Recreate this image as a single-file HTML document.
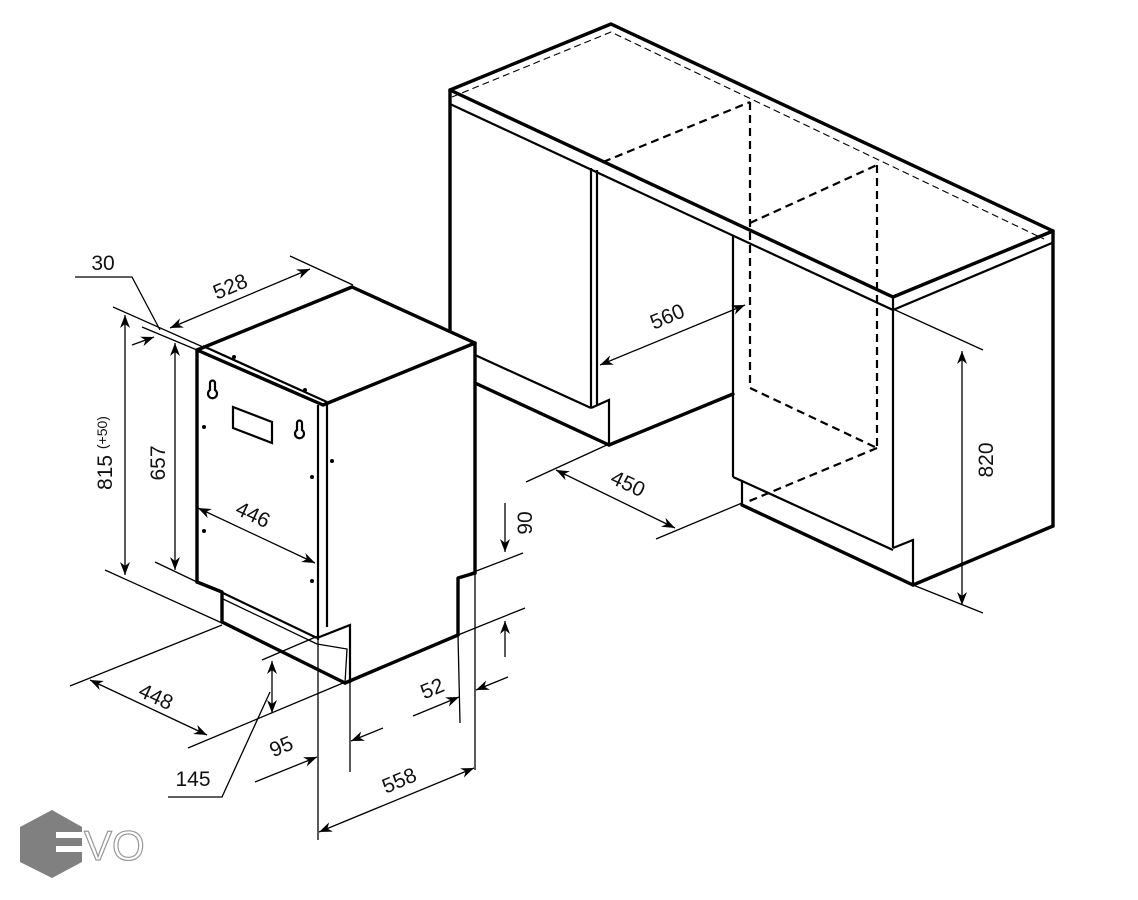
<!DOCTYPE html>
<html><head><meta charset="utf-8"><style>
html,body{margin:0;padding:0;background:#fff}
svg{display:block}
text{font-family:"Liberation Sans",sans-serif;font-size:21px;fill:#111}
.t{stroke:#000;stroke-width:3.4;fill:none;stroke-linejoin:round;stroke-linecap:round}
.m{stroke:#000;stroke-width:2.2;fill:none}
.d{stroke:#000;stroke-width:1.3;fill:none}
.ds{stroke:#000;stroke-width:2.2;fill:none;stroke-dasharray:8 5}
.dt{stroke:#000;stroke-width:1.1;fill:none;stroke-dasharray:7 4}
.a{stroke:#000;stroke-width:1.3;fill:none;marker-end:url(#ar)}
.aa{stroke:#000;stroke-width:1.3;fill:none;marker-end:url(#ar);marker-start:url(#as)}
</style></head><body>
<svg width="1138" height="900" viewBox="0 0 1138 900" xmlns="http://www.w3.org/2000/svg">
<defs>
<marker id="ar" markerWidth="14" markerHeight="10" refX="13" refY="5" orient="auto" markerUnits="userSpaceOnUse"><path d="M0,0 L13,5 L0,10 L4,5 Z" fill="#000"/></marker>
<marker id="as" markerWidth="14" markerHeight="10" refX="1" refY="5" orient="auto" markerUnits="userSpaceOnUse"><path d="M14,0 L1,5 L14,10 L10,5 Z" fill="#000"/></marker>
</defs>

<!-- CABINET -->
<polygon class="t" points="450,90 611,24 1053,231 893,297"/>
<line class="m" x1="450" y1="104" x2="893" y2="310"/>
<line class="m" x1="893" y1="310" x2="1052" y2="243"/>
<line class="m" x1="893" y1="297" x2="893" y2="548"/>
<polyline class="dt" points="452,97 611,32 1044,239"/>
<line class="t" x1="450" y1="90" x2="450" y2="330"/>
<line class="t" x1="1053" y1="231" x2="1053" y2="526"/>
<line class="m" x1="475" y1="355" x2="591" y2="408"/>
<line class="t" x1="475" y1="383" x2="609" y2="445"/>
<line class="m" x1="591" y1="168" x2="591" y2="408"/>
<line class="m" x1="597" y1="170" x2="597" y2="405"/>
<polyline class="m" points="591,408 609,400 609,445"/>
<line class="t" x1="609" y1="445" x2="733" y2="394"/>
<line class="m" x1="733" y1="235" x2="733" y2="477"/>
<polyline class="m" points="733,477 742,481 742,505"/>
<line class="m" x1="742" y1="481" x2="893" y2="550"/>
<line class="t" x1="742" y1="505" x2="913" y2="585"/>
<polyline class="m" points="893,548 913,540 913,585"/>
<line class="t" x1="913" y1="585" x2="1053" y2="526"/>
<!-- dashed opening -->
<line class="ds" x1="603" y1="162" x2="750" y2="102"/>
<line class="ds" x1="750" y1="102" x2="750" y2="388"/>
<line class="ds" x1="750" y1="223" x2="877" y2="165"/>
<line class="ds" x1="877" y1="165" x2="877" y2="448"/>
<line class="ds" x1="750" y1="388" x2="877" y2="448"/>
<line class="ds" x1="877" y1="448" x2="747" y2="502"/>
<!-- 560 -->
<line class="aa" x1="600" y1="365" x2="745" y2="305"/>
<text transform="translate(670,323) rotate(-23)" text-anchor="middle">560</text>
<!-- 450 -->
<line class="d" x1="526" y1="482" x2="609" y2="444"/>
<line class="d" x1="656" y1="539" x2="742" y2="503"/>
<line class="aa" x1="556" y1="470" x2="675" y2="528"/>
<text transform="translate(625,490) rotate(25)" text-anchor="middle">450</text>
<!-- 820 -->
<line class="d" x1="893" y1="309" x2="983" y2="350"/>
<line class="d" x1="913" y1="585" x2="983" y2="613"/>
<line class="aa" x1="962" y1="351" x2="962" y2="605"/>
<text transform="translate(993,460) rotate(-90)" text-anchor="middle">820</text>

<!-- DISHWASHER -->
<polygon points="197,350 352,287 475,343 475,573 458,578 458,635 345,683 222,622 222,592 197,582" fill="#fff"/>
<polygon class="t" points="197,350 352,287 475,343 323,405"/>
<line class="m" x1="203" y1="346" x2="327" y2="402"/>
<line class="t" x1="197" y1="350" x2="197" y2="582"/>
<line class="m" x1="318" y1="405" x2="318" y2="640"/>
<line class="d" x1="318" y1="640" x2="318" y2="840"/>
<line class="m" x1="327" y1="403" x2="327" y2="627"/>
<line class="t" x1="475" y1="343" x2="475" y2="573"/>
<line class="d" x1="475" y1="573" x2="475" y2="770"/>
<polyline class="t" points="197,582 222,592 222,622"/>
<line class="m" x1="223" y1="593" x2="317" y2="638"/>
<line class="d" x1="223" y1="599" x2="317" y2="644"/>
<line class="t" x1="222" y1="622" x2="345" y2="683"/>
<polyline class="m" points="317,638 350,625 350,683"/>
<polyline class="d" points="317,644 347,649 345,683"/>
<line class="t" x1="345" y1="683" x2="458" y2="635"/>
<polyline class="t" points="458,635 458,578 475,573"/>
<line class="d" x1="458" y1="635" x2="460" y2="723"/>
<!-- details -->
<path d="M210,383 a2.5,2.5 0 0 1 5,0 v7 a4.5,4.5 0 1 1 -5,0 z" class="m"/>
<path d="M297,423 a2.5,2.5 0 0 1 5,0 v7 a4.5,4.5 0 1 1 -5,0 z" class="m"/>
<polygon class="m" points="233,407 272,422 272,443 233,428"/>
<g fill="#000"><circle cx="204" cy="427" r="2"/><circle cx="204" cy="531" r="2"/><circle cx="312" cy="477" r="2"/><circle cx="312" cy="581" r="2"/><circle cx="332" cy="461" r="2"/><circle cx="234" cy="357" r="2"/><circle cx="305" cy="390" r="2"/></g>

<!-- 528 / 30 -->
<line class="d" x1="290" y1="256" x2="353" y2="285"/>
<line class="d" x1="113" y1="307" x2="203" y2="347"/>
<line class="d" x1="142" y1="327" x2="197" y2="350"/>
<line class="aa" x1="170" y1="328" x2="310" y2="269"/>
<text transform="translate(233,293) rotate(-23)" text-anchor="middle">528</text>
<text x="103" y="270" text-anchor="middle">30</text>
<polyline class="d" points="75,277 132,277 160,330"/>
<line class="a" x1="132" y1="345" x2="154" y2="337"/>
<!-- 815 -->
<line class="aa" x1="125" y1="315" x2="125" y2="575"/>
<line class="d" x1="105" y1="570" x2="222" y2="623"/>
<text transform="translate(112,453) rotate(-90)" text-anchor="middle">815 <tspan font-size="14" dy="-5">(+50)</tspan></text>
<!-- 657 -->
<line class="aa" x1="175" y1="343" x2="175" y2="570"/>
<line class="d" x1="155" y1="562" x2="197" y2="582"/>
<text transform="translate(165,463) rotate(-90)" text-anchor="middle">657</text>
<!-- 446 -->
<line class="aa" x1="198" y1="508" x2="315" y2="563"/>
<text transform="translate(250,521) rotate(25)" text-anchor="middle">446</text>
<!-- 90 -->
<line class="a" x1="505" y1="503" x2="505" y2="552"/>
<line class="a" x1="505" y1="657" x2="505" y2="621"/>
<line class="d" x1="458" y1="578" x2="523" y2="553"/>
<line class="d" x1="458" y1="635" x2="525" y2="608"/>
<text transform="translate(532,523) rotate(-90)" text-anchor="middle">90</text>
<!-- 448 -->
<line class="d" x1="70" y1="686" x2="222" y2="625"/>
<line class="d" x1="188" y1="748" x2="343" y2="683"/>
<line class="aa" x1="90" y1="680" x2="207" y2="735"/>
<text transform="translate(153,703) rotate(25)" text-anchor="middle">448</text>
<!-- 145 -->
<line class="d" x1="262" y1="660" x2="318" y2="636"/>
<line class="aa" x1="272" y1="661" x2="272" y2="713"/>
<text x="193" y="786" text-anchor="middle">145</text>
<polyline class="d" points="168,797 222,797 270,692"/>
<!-- 95 -->
<line class="d" x1="350" y1="683" x2="350" y2="772"/>
<line class="a" x1="255" y1="782" x2="317" y2="757"/>
<line class="a" x1="383" y1="728" x2="351" y2="741"/>
<text transform="translate(284,753) rotate(-23)" text-anchor="middle">95</text>
<!-- 52 -->
<line class="a" x1="413" y1="716" x2="459" y2="697"/>
<line class="a" x1="508" y1="677" x2="476" y2="690"/>
<text transform="translate(435,695) rotate(-23)" text-anchor="middle">52</text>
<!-- 558 -->
<line class="aa" x1="319" y1="832" x2="474" y2="768"/>
<text transform="translate(402,787) rotate(-23)" text-anchor="middle">558</text>

<!-- LOGO -->
<polygon points="20,827 52,810 82,827 82,862 52,878 20,862" fill="#808080"/>
<rect x="56" y="832" width="28" height="6" fill="#fff"/>
<rect x="56" y="846" width="28" height="6" fill="#fff"/>
<text x="84" y="860" style="font-size:42px;fill:#fff;stroke:#999;stroke-width:1.2">VO</text>
</svg>
</body></html>
